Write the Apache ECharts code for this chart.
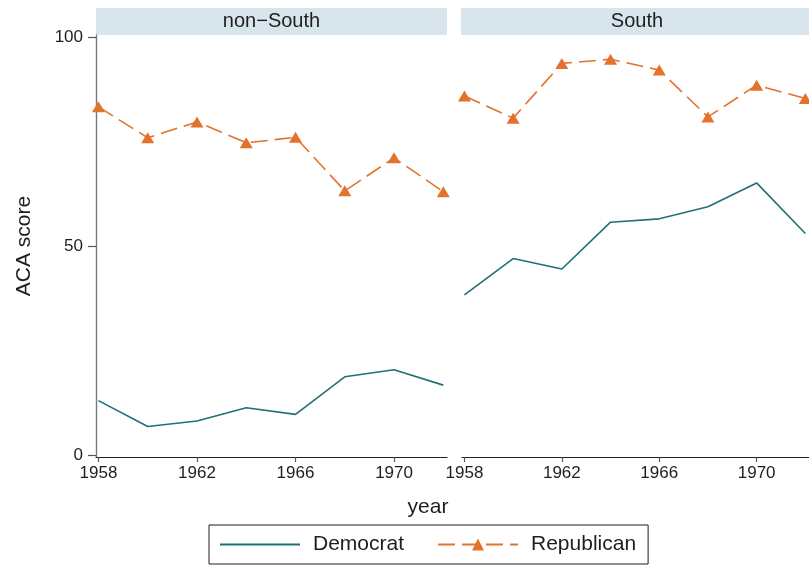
<!DOCTYPE html>
<html>
<head>
<meta charset="utf-8">
<script src="https://cdn.jsdelivr.net/npm/echarts@6/dist/echarts.min.js"></script>
<style>
  html, body { margin: 0; padding: 0; background: #fff; }
  #chart { width: 809px; height: 567px; }
</style>
</head>
<body>
<div id="chart"></div>
<script>
// ACA scores by party and region, 1958-1972
const years = [1958, 1960, 1962, 1964, 1966, 1968, 1970, 1972];
const panels = ['non\u2212South', 'South'];
const demNonSouth = [13.0, 6.8, 8.1, 11.3, 9.7, 18.7, 20.4, 16.7];
const repNonSouth = [83.3, 75.9, 79.7, 74.7, 76.0, 63.2, 71.1, 63.0];
const demSouth = [38.3, 47.0, 44.5, 55.7, 56.5, 59.4, 65.1, 53.0];
const repSouth = [85.9, 80.6, 93.7, 94.7, 92.1, 80.9, 88.5, 85.3];
const xTicks = [1958, 1962, 1966, 1970];
const yTicks = [0, 50, 100];

const DEM = '#1f7174';
const REP = '#e2722c';
const INK = '#1e1e1e';
const FONT = '"Liberation Sans", Arial, sans-serif';

const pair = (vals) => years.map((y, i) => [y, vals[i]]);

const grids = [
  { left: 96, top: 35, width: 351, height: 422 },
  { left: 462, top: 35, width: 351, height: 422 }
];

function xAxisFor(i) {
  return {
    type: 'value', gridIndex: i, min: 1957.9, max: 1972.15,
    splitLine: { show: false },
    axisLine: { show: true, onZero: false, lineStyle: { color: INK, width: 1.2 } },
    axisTick: { show: true, customValues: xTicks, length: 5, lineStyle: { color: '#555', width: 1.2 } },
    axisLabel: {
      customValues: xTicks, margin: 8, fontSize: 17, color: INK, fontFamily: FONT,
      formatter: (v) => String(v)
    }
  };
}
function yAxisFor(i) {
  const shown = i === 0;
  return {
    type: 'value', gridIndex: i, min: -0.5, max: 100.5,
    splitLine: { show: false },
    name: shown ? 'ACA score' : '',
    nameLocation: 'middle', nameGap: 61, nameRotate: 90,
    nameTextStyle: { fontSize: 21, color: INK, fontFamily: FONT },
    axisLine: { show: shown, lineStyle: { color: '#7a7a7a', width: 1.4 } },
    axisTick: { show: shown, customValues: yTicks, length: 8, lineStyle: { color: '#555', width: 1.2 } },
    axisLabel: { show: shown, customValues: yTicks, margin: 13, fontSize: 17, color: INK, fontFamily: FONT }
  };
}

function demSeries(vals, i) {
  return {
    name: 'Democrat', type: 'line', xAxisIndex: i, yAxisIndex: i,
    data: pair(vals), symbol: 'none', clip: false,
    lineStyle: { color: DEM, width: 1.6 }, itemStyle: { color: DEM },
    z: 2
  };
}
function repSeries(vals, i) {
  return {
    name: 'Republican', type: 'line', xAxisIndex: i, yAxisIndex: i,
    data: pair(vals), symbol: 'triangle', symbolSize: [13, 11], clip: false,
    lineStyle: { color: REP, width: 1.6, type: [17, 7] }, itemStyle: { color: REP },
    z: 3
  };
}

const chart = echarts.init(document.getElementById('chart'), null, { renderer: 'canvas' });
chart.setOption({
  animation: false,
  backgroundColor: '#fff',
  grid: grids,
  xAxis: [xAxisFor(0), xAxisFor(1)],
  yAxis: [yAxisFor(0), yAxisFor(1)],
  series: [
    demSeries(demNonSouth, 0), repSeries(repNonSouth, 0),
    demSeries(demSouth, 1), repSeries(repSouth, 1)
  ],
  legend: {
    left: 209, top: 525,
    itemWidth: 80, itemHeight: 15, itemGap: 33,
    padding: [9, 12, 9, 10],
    borderColor: INK, borderWidth: 1, borderRadius: 0,
    textStyle: { fontSize: 21, color: INK, fontFamily: FONT, padding: [0, 0, 0, 8] },
    data: [
      // plain line key: hide the marker that the line icon adds by default
      { name: 'Democrat', itemStyle: { color: 'rgba(0,0,0,0)', borderWidth: 0 } },
      { name: 'Republican' }
    ]
  },
  graphic: [
    { type: 'rect', shape: { x: 96, y: 8, width: 351, height: 27 }, style: { fill: '#d8e5ec' }, silent: true },
    { type: 'rect', shape: { x: 461, y: 8, width: 360, height: 27 }, style: { fill: '#d8e5ec' }, silent: true },
    { type: 'text', x: 271.5, y: 21, style: { text: panels[0], fontSize: 20, fill: INK, fontFamily: FONT, align: 'center', verticalAlign: 'middle' } },
    { type: 'text', x: 637, y: 21, style: { text: panels[1], fontSize: 20, fill: INK, fontFamily: FONT, align: 'center', verticalAlign: 'middle' } },
    { type: 'text', x: 428, y: 507, style: { text: 'year', fontSize: 21, fill: INK, fontFamily: FONT, align: 'center', verticalAlign: 'middle' } }
  ]
});
</script>
</body>
</html>
